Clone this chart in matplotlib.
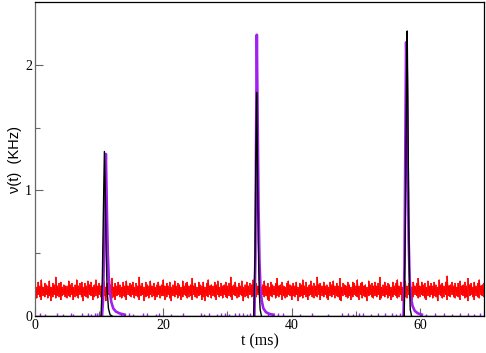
import numpy as np
import matplotlib
matplotlib.use("Agg")
import matplotlib.pyplot as plt
from matplotlib.ticker import MultipleLocator

# red: noisy rate, upper / lower envelope per 0.25 ms bin over 0..70 ms
red_hi = [
    0.25, 0.23, 0.27, 0.24, 0.29, 0.23, 0.26, 0.25, 0.24, 0.28, 0.23, 0.26, 0.25, 0.31, 0.24, 0.26, 0.27, 0.23, 0.25, 0.24,
    0.24, 0.28, 0.25, 0.26, 0.23, 0.25, 0.29, 0.24, 0.26, 0.27, 0.23, 0.26, 0.24, 0.28, 0.25, 0.27, 0.23, 0.25, 0.29, 0.24,
    0.26, 0.24, 0.25, 0.28, 0.23, 0.26, 0.24, 0.25, 0.30, 0.23, 0.26, 0.24, 0.27, 0.25, 0.23, 0.27, 0.24, 0.28, 0.24, 0.26,
    0.25, 0.27, 0.23, 0.26, 0.24, 0.31, 0.24, 0.26, 0.23, 0.27, 0.25, 0.24, 0.28, 0.24, 0.26, 0.23, 0.25, 0.27, 0.24, 0.25,
    0.29, 0.24, 0.26, 0.24, 0.27, 0.23, 0.25, 0.28, 0.24, 0.26, 0.25, 0.23, 0.28, 0.24, 0.26, 0.27, 0.24, 0.25, 0.30, 0.24,
    0.26, 0.23, 0.27, 0.25, 0.24, 0.27, 0.23, 0.26, 0.29, 0.24, 0.25, 0.24, 0.27, 0.25, 0.28, 0.23, 0.26, 0.24, 0.25, 0.27,
    0.24, 0.26, 0.31, 0.24, 0.25, 0.27, 0.23, 0.26, 0.24, 0.28, 0.23, 0.25, 0.27, 0.24, 0.26, 0.25, 0.29, 0.24, 0.26, 0.24,
    0.27, 0.23, 0.25, 0.28, 0.24, 0.26, 0.23, 0.27, 0.25, 0.24, 0.26, 0.30, 0.24, 0.25, 0.27, 0.24, 0.23, 0.26, 0.28, 0.25,
    0.24, 0.26, 0.24, 0.27, 0.23, 0.26, 0.25, 0.29, 0.24, 0.27, 0.23, 0.25, 0.28, 0.24, 0.26, 0.24, 0.31, 0.25, 0.26, 0.24,
    0.27, 0.24, 0.25, 0.23, 0.27, 0.25, 0.28, 0.24, 0.26, 0.24, 0.30, 0.23, 0.26, 0.25, 0.24, 0.27, 0.25, 0.23, 0.27, 0.26,
    0.24, 0.29, 0.24, 0.26, 0.27, 0.24, 0.25, 0.23, 0.28, 0.25, 0.26, 0.24, 0.27, 0.24, 0.26, 0.31, 0.23, 0.25, 0.27, 0.24,
    0.26, 0.25, 0.23, 0.27, 0.24, 0.26, 0.29, 0.24, 0.27, 0.23, 0.25, 0.28, 0.24, 0.26, 0.25, 0.23, 0.27, 0.24, 0.26, 0.30,
    0.24, 0.27, 0.25, 0.26, 0.23, 0.28, 0.24, 0.26, 0.24, 0.27, 0.25, 0.23, 0.29, 0.25, 0.26, 0.24, 0.27, 0.32, 0.24, 0.25,
    0.27, 0.24, 0.26, 0.23, 0.26, 0.28, 0.24, 0.25, 0.27, 0.24, 0.30, 0.25, 0.26, 0.23, 0.27, 0.24, 0.26, 0.29, 0.24, 0.25,
    0.26,
]
red_lo = [
    0.16, 0.14, 0.17, 0.15, 0.13, 0.16, 0.15, 0.17, 0.14, 0.16, 0.12, 0.15, 0.17, 0.14, 0.16, 0.15, 0.13, 0.16, 0.17, 0.15,
    0.14, 0.16, 0.15, 0.17, 0.13, 0.15, 0.16, 0.14, 0.17, 0.15, 0.12, 0.16, 0.15, 0.14, 0.17, 0.16, 0.13, 0.15, 0.16, 0.14,
    0.17, 0.15, 0.14, 0.16, 0.12, 0.15, 0.17, 0.16, 0.14, 0.15, 0.13, 0.16, 0.17, 0.15, 0.14, 0.16, 0.15, 0.13, 0.17, 0.16,
    0.15, 0.17, 0.14, 0.16, 0.15, 0.13, 0.16, 0.17, 0.12, 0.15, 0.16, 0.14, 0.17, 0.15, 0.16, 0.13, 0.15, 0.17, 0.14, 0.16,
    0.16, 0.13, 0.15, 0.17, 0.14, 0.12, 0.16, 0.15, 0.17, 0.14, 0.16, 0.13, 0.15, 0.17, 0.16, 0.14, 0.15, 0.16, 0.13, 0.17,
    0.15, 0.14, 0.16, 0.17, 0.13, 0.15, 0.12, 0.16, 0.15, 0.17, 0.14, 0.16, 0.15, 0.13, 0.17, 0.15, 0.16, 0.14, 0.17, 0.15,
    0.14, 0.16, 0.15, 0.13, 0.17, 0.16, 0.14, 0.15, 0.17, 0.16, 0.12, 0.15, 0.16, 0.14, 0.17, 0.15, 0.16, 0.13, 0.15, 0.17,
    0.16, 0.14, 0.17, 0.15, 0.16, 0.13, 0.12, 0.16, 0.15, 0.17, 0.14, 0.16, 0.15, 0.17, 0.13, 0.16, 0.14, 0.15, 0.17, 0.16,
    0.13, 0.16, 0.15, 0.17, 0.12, 0.15, 0.16, 0.14, 0.17, 0.15, 0.13, 0.16, 0.17, 0.15, 0.14, 0.16, 0.15, 0.17, 0.13, 0.16,
    0.15, 0.17, 0.14, 0.13, 0.16, 0.15, 0.17, 0.14, 0.16, 0.15, 0.13, 0.12, 0.16, 0.17, 0.15, 0.14, 0.16, 0.13, 0.15, 0.17,
    0.16, 0.15, 0.13, 0.17, 0.14, 0.16, 0.15, 0.12, 0.16, 0.17, 0.15, 0.14, 0.16, 0.15, 0.17, 0.13, 0.14, 0.16, 0.15, 0.17,
    0.14, 0.16, 0.13, 0.15, 0.17, 0.16, 0.14, 0.15, 0.17, 0.12, 0.16, 0.15, 0.14, 0.17, 0.16, 0.13, 0.15, 0.17, 0.16, 0.14,
    0.15, 0.17, 0.16, 0.14, 0.13, 0.16, 0.15, 0.17, 0.14, 0.16, 0.15, 0.12, 0.17, 0.16, 0.14, 0.15, 0.17, 0.13, 0.16, 0.15,
    0.17, 0.15, 0.14, 0.16, 0.15, 0.13, 0.17, 0.16, 0.14, 0.15, 0.12, 0.16, 0.17, 0.15, 0.13, 0.16, 0.15, 0.14, 0.17, 0.16,
    0.15,
]
t_red = np.linspace(0, 70, len(red_hi))

# black spikes (t, rate)
black_t = [
    [10.30, 10.50, 10.70, 10.82, 10.95, 11.10, 11.25, 11.45, 11.70, 12.00],
    [34.10, 34.30, 34.45, 34.55, 34.68, 34.80, 34.95, 35.10, 35.30],
    [57.55, 57.75, 57.92, 58.02, 58.12, 58.25, 58.38, 58.50, 58.70],
]
black_v = [
    [0.0, 0.30, 0.95, 1.31, 1.00, 0.50, 0.20, 0.06, 0.01, 0.0],
    [0.0, 0.50, 1.35, 1.78, 1.20, 0.60, 0.20, 0.05, 0.0],
    [0.0, 0.80, 1.90, 2.27, 1.70, 0.80, 0.25, 0.05, 0.0],
]

# purple spikes (t, rate)
purple_t = [
    [10.45, 10.60, 10.80, 10.95, 11.05, 11.20, 11.35, 11.50, 11.70, 11.90, 12.20, 12.60, 13.20, 14.00],
    [34.20, 34.35, 34.48, 34.58, 34.70, 34.85, 35.00, 35.15, 35.35, 35.60, 36.00, 36.60, 37.20],
    [57.45, 57.60, 57.75, 57.85, 57.97, 58.10, 58.25, 58.40, 58.60, 58.85, 59.20, 59.70, 60.30],
]
purple_v = [
    [0.0, 0.12, 0.60, 1.10, 1.29, 0.85, 0.50, 0.30, 0.18, 0.11, 0.06, 0.035, 0.02, 0.01],
    [0.01, 0.45, 1.50, 2.24, 1.60, 0.85, 0.42, 0.22, 0.12, 0.06, 0.03, 0.015, 0.01],
    [0.01, 0.40, 1.50, 2.18, 1.90, 1.20, 0.60, 0.30, 0.15, 0.08, 0.04, 0.02, 0.01],
]

# small purple blips on the baseline
blip_t = [0.8, 1.6, 3.5, 4.4, 5.6, 6.0, 7.3, 8.2, 8.8, 9.4, 9.7, 10.0, 13.4, 13.8, 14.6, 15.2,
          16.9, 17.5, 18.8, 19.3, 21.2, 23.0, 25.8, 26.4, 27.2, 28.3, 29.0, 29.6, 30.3, 31.1,
          31.8, 32.4, 33.0, 33.5, 36.3, 37.0, 37.9, 38.6, 41.3, 43.2, 45.6, 47.9, 48.8, 49.6,
          50.5, 51.2, 52.4, 53.5, 54.6, 55.6, 56.3, 56.9, 60.2, 61.0, 62.4, 63.7, 65.0, 66.3,
          67.5, 68.4, 69.4]
blip_h = [0.02, 0.015, 0.025, 0.015, 0.02, 0.015, 0.02, 0.025, 0.015, 0.02, 0.025, 0.02, 0.02, 0.015, 0.02, 0.015,
          0.02, 0.025, 0.015, 0.02, 0.015, 0.02, 0.025, 0.015, 0.02, 0.015, 0.025, 0.02, 0.015, 0.02,
          0.025, 0.02, 0.015, 0.025, 0.02, 0.015, 0.025, 0.02, 0.015, 0.02, 0.015, 0.025, 0.02, 0.015,
          0.02, 0.025, 0.015, 0.02, 0.025, 0.02, 0.015, 0.025, 0.02, 0.015, 0.02, 0.025, 0.015, 0.02,
          0.025, 0.015, 0.02]

purple = "#a020f0"

fig = plt.figure(figsize=(4.86, 3.53), dpi=100)
ax = fig.add_axes([0.072, 0.105, 0.924, 0.889])

# dense noise: one vertical stroke per bin plus the zigzag joining them
ax.vlines(t_red, red_lo, red_hi, color="#ff0000", lw=1.2)
zig_t = np.repeat(t_red, 2)
zig_v = np.ravel(np.column_stack([red_lo, red_hi]))
ax.plot(zig_t, zig_v, color="#ff0000", lw=0.6)

ax.vlines(blip_t, 0, blip_h, color=purple, lw=1.0)
for tt, vv in zip(purple_t, purple_v):
    ax.plot(tt, vv, color=purple, lw=1.9)
for tt, vv in zip(black_t, black_v):
    ax.plot(tt, vv, color="black", lw=1.0)
ax.axhline(0, color="black", lw=1.0)

ax.set_xlim(0, 70)
ax.set_ylim(0, 2.5)
ax.xaxis.set_major_locator(MultipleLocator(20))
ax.xaxis.set_minor_locator(MultipleLocator(10))
ax.yaxis.set_major_locator(MultipleLocator(1))
ax.yaxis.set_minor_locator(MultipleLocator(0.5))
ax.tick_params(which="both", direction="in", top=False, right=False, color="#666666")
ax.tick_params(which="major", length=6, width=0.8, pad=2)
ax.tick_params(which="minor", length=3.5, width=0.8)
for lab in ax.get_xticklabels() + ax.get_yticklabels():
    lab.set_family("Liberation Serif")
    lab.set_fontsize(10)
for sp in ax.spines.values():
    sp.set_linewidth(0.9)
ax.spines["left"].set_color("#666666")

ax.set_xlabel("t (ms)", family="Liberation Serif", fontsize=11.5, labelpad=1)
ax.set_ylabel("\u03bd(t)  (KHz)", family="Liberation Sans", fontsize=10.5, labelpad=2)

fig.savefig("out.png", dpi=100)
